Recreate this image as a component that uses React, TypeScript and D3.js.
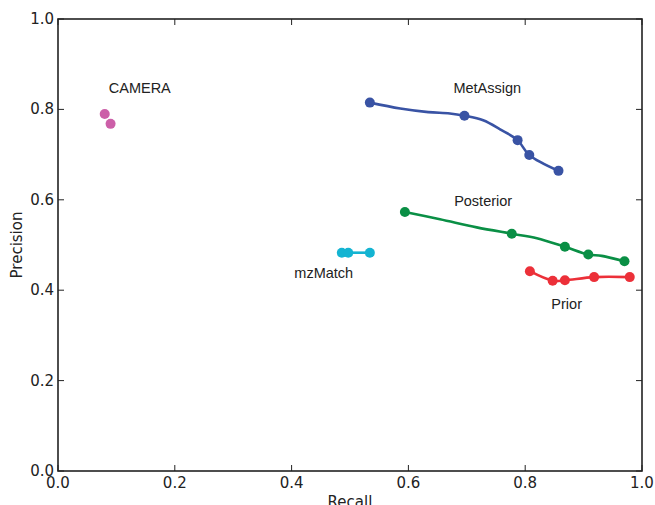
import React from 'react';
import * as d3 from 'd3';

type Pt = [number, number];

// MetAssign curve (dense) and its marked points
const metAssignLine: Pt[] = [
  [0.534, 0.815], [0.586, 0.802], [0.634, 0.794], [0.671, 0.791], [0.696, 0.786],
  [0.728, 0.776], [0.757, 0.756], [0.787, 0.732], [0.807, 0.699], [0.857, 0.664],
];
const metAssignMarks: Pt[] = [
  [0.534, 0.815], [0.696, 0.786], [0.787, 0.732], [0.807, 0.699], [0.857, 0.664],
];

const posteriorLine: Pt[] = [
  [0.594, 0.573], [0.654, 0.557], [0.717, 0.539], [0.777, 0.525], [0.820, 0.515],
  [0.868, 0.496], [0.908, 0.479], [0.931, 0.476], [0.970, 0.464],
];
const posteriorMarks: Pt[] = [
  [0.594, 0.573], [0.777, 0.525], [0.868, 0.496], [0.908, 0.479], [0.970, 0.464],
];

const priorLine: Pt[] = [
  [0.808, 0.442], [0.847, 0.421], [0.868, 0.422], [0.918, 0.429], [0.979, 0.429],
];
const mzMatchLine: Pt[] = [[0.486, 0.483], [0.497, 0.483], [0.534, 0.483]];
const cameraMarks: Pt[] = [[0.080, 0.790], [0.090, 0.768]];

const ticks = [0, 0.2, 0.4, 0.6, 0.8, 1.0];

const series = [
  { name: 'MetAssign', color: '#3953a4', line: metAssignLine, marks: metAssignMarks, label: [0.735, 0.836] as Pt },
  { name: 'Posterior', color: '#0a8f45', line: posteriorLine, marks: posteriorMarks, label: [0.728, 0.587] as Pt },
  { name: 'Prior', color: '#ec3039', line: priorLine, marks: priorLine, label: [0.871, 0.358] as Pt },
  { name: 'mzMatch', color: '#14b4d2', line: mzMatchLine, marks: mzMatchLine, label: [0.455, 0.428] as Pt },
  { name: 'CAMERA', color: '#cc5fa8', line: [] as Pt[], marks: cameraMarks, label: [0.140, 0.836] as Pt },
];

export default function App() {
  const W = 655, H = 505;
  const m = { left: 58, right: 13, top: 19, bottom: 34 };
  const x = d3.scaleLinear().domain([0, 1]).range([m.left, W - m.right]);
  const y = d3.scaleLinear().domain([0, 1]).range([H - m.bottom, m.top]);
  const line = d3.line<Pt>().x(d => x(d[0])).y(d => y(d[1])).curve(d3.curveCatmullRom.alpha(0.5));
  const tickFont = '"DejaVu Sans", sans-serif';
  const labelFont = '"Liberation Sans", Arial, sans-serif';
  const x0 = x(0), x1 = x(1), y0 = y(0), y1 = y(1);

  return (
    <svg width={W} height={H} style={{ position: 'absolute', left: 0, top: 0 }}>
      <rect width={W} height={H} fill="white" />
      {series.map(s => (
        <g key={s.name}>
          {s.line.length > 1 && (
            <path d={line(s.line) || ''} fill="none" stroke={s.color} strokeWidth={2.6} strokeLinejoin="round" />
          )}
          {s.marks.map((p, i) => (
            <circle key={i} cx={x(p[0])} cy={y(p[1])} r={5} fill={s.color} />
          ))}
          <text x={x(s.label[0])} y={y(s.label[1])} textAnchor="middle" fontFamily={labelFont}
            fontSize={14.5} fill="#222">{s.name}</text>
        </g>
      ))}
      {/* frame */}
      <rect x={x0} y={y1} width={x1 - x0} height={y0 - y1} fill="none" stroke="#222" strokeWidth={1.6} />
      {ticks.map(t => (
        <g key={t}>
          <line x1={x(t)} x2={x(t)} y1={y0} y2={y0 - 6} stroke="#222" strokeWidth={1} />
          <line x1={x(t)} x2={x(t)} y1={y1} y2={y1 + 6} stroke="#222" strokeWidth={1} />
          <line x1={x0} x2={x0 + 6} y1={y(t)} y2={y(t)} stroke="#222" strokeWidth={1} />
          <line x1={x1} x2={x1 - 6} y1={y(t)} y2={y(t)} stroke="#222" strokeWidth={1} />
          <text x={x(t)} y={y0 + 17} textAnchor="middle" fontFamily={tickFont} fontSize={15} fill="#222">
            {t.toFixed(1)}
          </text>
          <text x={x0 - 4} y={y(t) + 5} textAnchor="end" fontFamily={tickFont} fontSize={15} fill="#222">
            {t.toFixed(1)}
          </text>
        </g>
      ))}
      <text x={(x0 + x1) / 2} y={y0 + 36} textAnchor="middle" fontFamily={tickFont} fontSize={15} fill="#222">Recall</text>
      <text transform={`translate(${22},${(y0 + y1) / 2}) rotate(-90)`} textAnchor="middle" fontFamily={tickFont}
        fontSize={15} fill="#222">Precision</text>
    </svg>
  );
}
